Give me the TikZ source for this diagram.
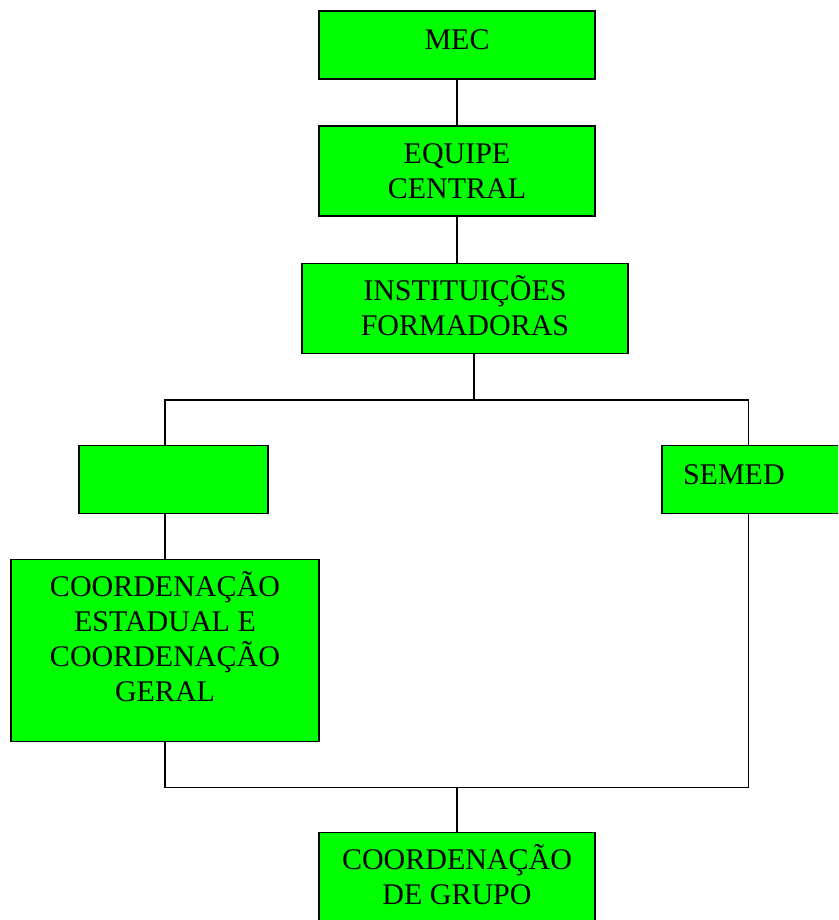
\documentclass[tikz,border=0pt]{standalone}
\usepackage{fontspec}
\setmainfont{Liberation Serif}
\usepackage{xcolor}
\usetikzlibrary{
    calc,
    positioning
}
\definecolor{boxgreen}{HTML}{00FF00}
\tikzset{
    box/.style={draw, fill=boxgreen, line width=1.5pt, align=center, inner sep=0pt,
        text depth=0pt, font=\fontsize{30}{35}\selectfont},
    link/.style={line width=1.5pt}
}

\begin{document}
\begin{tikzpicture}[x=1pt, y=-1pt]
    \useasboundingbox (0,0) rectangle (838,920);
    \clip (0,0) rectangle (838,920);
    \node[box, minimum width=276pt, minimum height=68pt, text depth=10pt] (mec) at (457, 45) {MEC};
    \node[box, minimum width=276pt, minimum height=90pt] (equipe) at (457, 171) {EQUIPE\\CENTRAL};
    \node[box, minimum width=326pt, minimum height=90pt, text depth=6pt] (inst) at (465, 308.5) {INSTITUIÇÕES\\FORMADORAS};
    \node[box, minimum width=189pt, minimum height=68pt] (vazio) at (173.5, 479.5) {};
    \node[box, minimum width=190pt, minimum height=68pt, align=left, text width=148pt, inner xsep=21pt, text depth=10pt] (semed) at (757, 479.5) {SEMED};
    \node[box, minimum width=308pt, minimum height=182pt, text depth=29pt] (estadual) at (165, 650.5) {COORDENAÇÃO\\ESTADUAL E\\COORDENAÇÃO\\GERAL};
    \node[box, minimum width=276pt, minimum height=90pt, text depth=6pt] (grupo) at (457, 877.5) {COORDENAÇÃO\\DE GRUPO};
    % ligacoes
    \coordinate (topo) at (474, 400);
    \coordinate (dir) at (748.5, 400);
    \coordinate (base) at (457, 787.5);
    \draw[link] (mec) -- (equipe);
    \draw[link] (equipe.south) -- (equipe.south |- inst.north);
    \draw[link] (inst.south -| topo) -- (topo);
    \draw[link] (estadual |- vazio.north) -- (estadual |- topo) -- (dir) -- (dir |- semed.north);
    \draw[link] (estadual.north) -- (estadual |- vazio.south);
    \draw[link] (dir |- semed.south) -- (dir |- base) -- (estadual |- base) -- (estadual.south);
    \draw[link] (base) -- (grupo);
\end{tikzpicture}
\end{document}
